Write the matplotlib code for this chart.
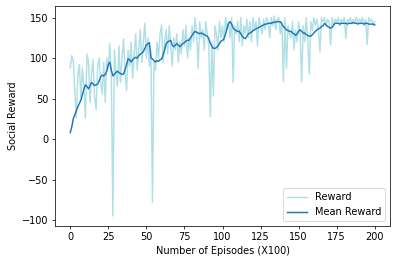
import matplotlib
matplotlib.use("Agg")
import matplotlib.pyplot as plt
import numpy as np

episodes = np.arange(0, 201)

reward = [
    88, 103, 97, 60, 26, 80, 92, 50, 88, 62,
    26, 105, 95, 45, 80, 98, 52, 36, 90, 100,
    70, 55, 95, 45, 100, 88, 118, 75, -95, 110,
    80, 65, 115, 70, 100, 124, 85, 60, 110, 90,
    120, 75, 105, 130, 85, 110, 135, 95, 120, 143,
    100, 125, 90, 110, -78, 95, 85, 120, 100, 130,
    141, 95, 120, 135, 105, 140, 115, 90, 125, 110,
    130, 95, 120, 105, 135, 115, 140, 100, 125, 110,
    140, 120, 150, 130, 87, 145, 125, 135, 110, 145,
    130, 115, 28, 120, 53, 140, 130, 110, 145, 125,
    140, 120, 150, 135, 145, 125, 150, 70, 140, 130,
    145, 120, 150, 115, 140, 130, 148, 125, 145, 120,
    150, 135, 145, 115, 150, 140, 130, 148, 135, 150,
    145, 125, 150, 140, 152, 135, 148, 150, 130, 145,
    71, 150, 87, 140, 130, 125, 145, 110, 135, 120,
    145, 130, 71, 140, 120, 150, 125, 80, 145, 135,
    150, 140, 148, 135, 108, 150, 145, 150, 140, 148,
    145, 116, 150, 140, 148, 145, 150, 140, 148, 145,
    150, 124, 148, 145, 150, 142, 148, 145, 150, 143,
    148, 145, 150, 140, 148, 117, 150, 145, 148, 140,
    145,
]

mean_reward = [
    8, 15, 25, 30, 35, 40, 44, 48, 55, 62,
    67, 65, 62, 66, 70, 68, 66, 67, 68, 72,
    77, 79, 78, 80, 84, 92, 95, 85, 78, 80,
    82, 84, 82, 81, 80, 80, 86, 92, 99, 98,
    95, 98, 100, 101, 100, 103, 105, 106, 108, 112,
    116, 118, 119, 100, 99, 97, 95, 97, 96, 98,
    99, 104, 110, 118, 120, 121, 122, 116, 114, 116,
    118, 116, 114, 116, 118, 119, 121, 122, 122, 125,
    128, 131, 133, 132, 131, 130, 131, 130, 129, 128,
    127, 124, 118, 115, 112, 112, 113, 115, 118, 121,
    122, 124, 130, 137, 143, 145, 142, 137, 135, 134,
    133, 133, 130, 127, 125, 124, 127, 130, 131, 132,
    134, 135, 136, 137, 138, 139, 140, 141, 142, 142,
    143, 143, 143, 144, 144, 145, 145, 145, 145, 142,
    139, 137, 135, 134, 133, 133, 131, 130, 128, 130,
    133, 135, 133, 131, 131, 129, 128, 127, 127, 129,
    131, 133, 135, 136, 137, 139, 140, 143, 141, 139,
    138, 137, 138, 141, 143, 143, 143, 142, 143, 143,
    143, 143, 142, 143, 143, 143, 144, 143, 143, 142,
    143, 143, 143, 142, 143, 143, 142, 142, 142, 142,
    141,
]

plt.rcParams["font.size"] = 10.7

fig = plt.figure(figsize=(397 / 66, 262 / 66), dpi=66)
ax = fig.add_axes([55 / 397, 1 - 226 / 262, 335 / 397, 220 / 262])

ax.plot(episodes, reward, color="powderblue", lw=1.6, label="Reward")
ax.plot(episodes, mean_reward, color="#1f77b4", lw=1.6, label="Mean Reward")

ax.set_xlabel("Number of Episodes (X100)")
ax.set_ylabel("Social Reward")
ax.set_xticks([0, 25, 50, 75, 100, 125, 150, 175, 200])
ax.set_yticks([-100, -50, 0, 50, 100, 150])
ax.legend(loc="lower right")

fig.savefig("out.png", dpi=66)
